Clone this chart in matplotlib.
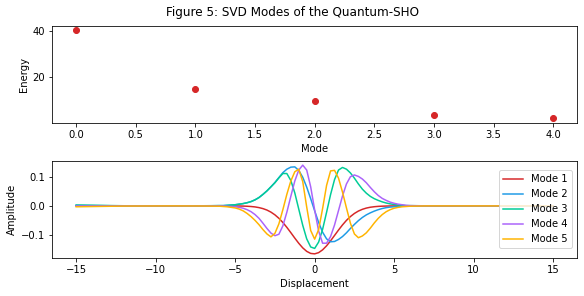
import matplotlib.pyplot as plt

# singular values / energies of the first five modes
modes = [0, 1, 2, 3, 4]
energies = [40.3, 14.8, 9.6, 3.6, 2.3]

# sample points along the displacement axis
displacement = [
    -15, -12, -9, -7,
    -6, -5.75, -5.5, -5.25, -5, -4.75, -4.5, -4.25, -4, -3.75, -3.5, -3.25,
    -3, -2.75, -2.5, -2.25, -2, -1.75, -1.5, -1.25, -1, -0.75, -0.5, -0.25,
    0, 0.25, 0.5, 0.75, 1, 1.25, 1.5, 1.75, 2, 2.25, 2.5, 2.75,
    3, 3.25, 3.5, 3.75, 4, 4.25, 4.5, 4.75, 5, 5.25, 5.5, 5.75, 6,
    7, 9, 12, 15,
]

mode_1 = [
    0, 0, 0, 0,
    0, 0, 0, -0.0001, -0.0002, -0.0003, -0.0006, -0.0012, -0.0021, -0.0035, -0.0059, -0.0094,
    -0.0144, -0.0215, -0.0309, -0.0428, -0.0573, -0.0741, -0.0924, -0.1113, -0.1293, -0.1451, -0.1572, -0.1643,
    -0.1658, -0.1616, -0.1519, -0.1379, -0.1208, -0.1022, -0.0835, -0.0658, -0.0500, -0.0368, -0.0261, -0.0178,
    -0.0118, -0.0075, -0.0046, -0.0028, -0.0016, -0.0009, -0.0005, -0.0002, -0.0001, 0, 0, 0, 0,
    0, 0, 0, 0,
]
mode_2 = [
    0.002, 0, 0, 0,
    0.001, 0.001, 0.002, 0.003, 0.004, 0.006, 0.008, 0.011, 0.015, 0.021, 0.029, 0.040,
    0.052, 0.066, 0.081, 0.098, 0.115, 0.127, 0.134, 0.135, 0.123, 0.099, 0.065, 0.025,
    -0.017, -0.057, -0.091, -0.114, -0.124, -0.123, -0.116, -0.106, -0.093, -0.078, -0.064, -0.051,
    -0.040, -0.031, -0.024, -0.018, -0.013, -0.009, -0.006, -0.004, -0.003, -0.002, -0.001, 0, 0,
    0, 0, 0, 0,
]
mode_3 = [
    0.003, 0.0005, 0.0002, 0.0005,
    0.001, 0.001, 0.002, 0.003, 0.004, 0.006, 0.008, 0.011, 0.015, 0.021, 0.029, 0.040,
    0.052, 0.066, 0.080, 0.097, 0.112, 0.112, 0.088, 0.045, -0.011, -0.067, -0.114, -0.142,
    -0.147, -0.125, -0.081, -0.022, 0.039, 0.091, 0.124, 0.133, 0.127, 0.114, 0.096, 0.076,
    0.058, 0.044, 0.033, 0.025, 0.019, 0.014, 0.010, 0.007, 0.005, 0.003, 0.002, 0.001, 0.001,
    0.0003, 0, 0, 0,
]
mode_4 = [
    0, 0, 0, 0,
    0, 0, -0.001, -0.002, -0.003, -0.005, -0.008, -0.013, -0.020, -0.030, -0.043, -0.060,
    -0.078, -0.094, -0.103, -0.098, -0.069, -0.022, 0.033, 0.086, 0.124, 0.141, 0.124, 0.066,
    -0.014, -0.087, -0.129, -0.129, -0.106, -0.066, -0.016, 0.034, 0.076, 0.101, 0.107, 0.102,
    0.093, 0.080, 0.064, 0.049, 0.036, 0.026, 0.019, 0.013, 0.009, 0.006, 0.004, 0.002, 0.001,
    0, 0, 0, 0,
]
mode_5 = [
    -0.003, -0.0005, 0, -0.0003,
    -0.001, -0.002, -0.003, -0.005, -0.007, -0.011, -0.017, -0.026, -0.037, -0.050, -0.065, -0.082,
    -0.097, -0.107, -0.095, -0.062, -0.013, 0.040, 0.086, 0.118, 0.127, 0.084, -0.004, -0.085,
    -0.115, -0.082, -0.009, 0.071, 0.121, 0.123, 0.096, 0.048, -0.007, -0.060, -0.097, -0.110,
    -0.104, -0.093, -0.077, -0.059, -0.043, -0.030, -0.020, -0.013, -0.008, -0.005, -0.003, -0.002, -0.001,
    0, 0, 0, 0,
]

mode_labels = ["Mode 1", "Mode 2", "Mode 3", "Mode 4", "Mode 5"]
mode_colors = ["#d62728", "#1e9be6", "#00cc96", "#ab63fa", "#ffb400"]

fig = plt.figure(figsize=(584 / 72, 296 / 72), dpi=72)
ax_top = fig.add_axes([0.0896, 0.5855, 0.8984, 0.3267])
ax_bot = fig.add_axes([0.0896, 0.1274, 0.8984, 0.3297])

ax_top.scatter(modes, energies, color="#d62728")
ax_top.set_xlabel("Mode")
ax_top.set_ylabel("Energy")

for ys, label, color in zip([mode_1, mode_2, mode_3, mode_4, mode_5], mode_labels, mode_colors):
    ax_bot.plot(displacement, ys, color=color, label=label, lw=1.5)
ax_bot.set_xlabel("Displacement")
ax_bot.set_ylabel("Amplitude")
ax_bot.legend(loc="center right")

fig.suptitle("Figure 5: SVD Modes of the Quantum-SHO")
fig.savefig("out.png", dpi=72)
